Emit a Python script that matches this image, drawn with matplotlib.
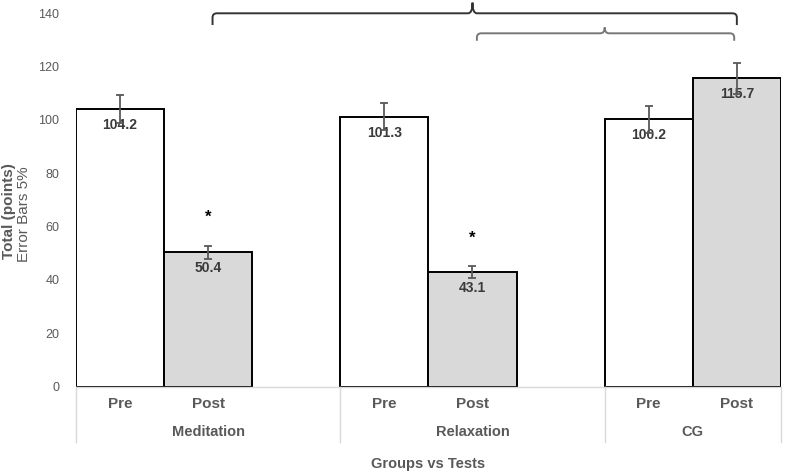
"""
Pre/post totals per group, bars with 5% error bars and significance brackets.
Output: out.png
"""

import matplotlib.pyplot as plt
from matplotlib.path import Path
from matplotlib.patches import PathPatch
from matplotlib.transforms import blended_transform_factory, offset_copy

plt.rcParams["font.family"] = ["Liberation Sans", "DejaVu Sans"]

GROUPS = ["Meditation", "Relaxation", "CG"]
TESTS = ["Pre", "Post"]
VALUES = [104.2, 50.4, 101.3, 43.1, 100.2, 115.7]
ERRORS = [5.2, 2.5, 5.1, 2.2, 5.0, 5.8]
SIGNIFICANT = [False, True, False, True, False, False]
Y_TICKS = [0, 20, 40, 60, 80, 100, 120, 140]

# slot index of each bar on the category axis (blank slot between groups)
SLOTS = [0, 1, 3, 4, 6, 7]
GROUP_SPANS = [(-0.5, 2.5), (2.5, 5.5), (5.5, 7.5)]

TEXT_GREY = "#595959"
LINE_GREY = "#d9d9d9"
POST_FILL = "#d9d9d9"


def rounded_bracket(ax, x0, x1, y, drop, xmid, rise, color, lw):
    rx, ry = 0.05, 1.6
    verts = [
        (x0, y - drop), (x0, y - ry), (x0, y), (x0 + rx, y),
        (xmid - rx, y), (xmid, y), (xmid, y + rise),
    ]
    codes = [Path.MOVETO, Path.LINETO, Path.CURVE3, Path.CURVE3,
             Path.LINETO, Path.CURVE3, Path.CURVE3]
    right = [
        (xmid, y + rise), (xmid, y), (xmid + rx, y),
        (x1 - rx, y), (x1, y), (x1, y - ry), (x1, y - drop),
    ]
    rcodes = [Path.MOVETO, Path.CURVE3, Path.CURVE3,
              Path.LINETO, Path.CURVE3, Path.CURVE3, Path.LINETO]
    path = Path(verts + right, codes + rcodes)
    ax.add_patch(PathPatch(path, facecolor="none", edgecolor=color,
                           lw=lw, clip_on=False))


fig = plt.figure(figsize=(7.88, 4.75), dpi=100)
ax = fig.add_axes([0.0964, 0.186, 0.8946, 0.786])

colors = ["white" if i % 2 == 0 else POST_FILL for i in range(len(VALUES))]
ax.bar(SLOTS, VALUES, width=1.0, color=colors, edgecolor="black",
       linewidth=1.4, zorder=2)
ax.errorbar(SLOTS, VALUES, yerr=ERRORS, fmt="none", ecolor="#595959",
            elinewidth=1.3, capsize=3, capthick=1.3, zorder=4)

for x, v, e, sig in zip(SLOTS, VALUES, ERRORS, SIGNIFICANT):
    ax.annotate(f"{v:.1f}", xy=(x, v), xytext=(0, -6.5),
                textcoords="offset points", ha="center", va="top",
                fontsize=10, fontweight="bold", color="#3a3a3a", zorder=3)
    if sig:
        ax.text(x, v + e + 10.5, "*", ha="center", va="center",
                fontsize=12, fontweight="bold", color="black")

ax.set_xlim(-0.5, 7.5)
ax.set_ylim(0, 140)
ax.set_yticks(Y_TICKS)
ax.set_yticklabels([str(t) for t in Y_TICKS], fontsize=9, color=TEXT_GREY)
ax.tick_params(axis="y", length=0, pad=12)
ax.set_xticks([])

for side in ["left", "right", "top"]:
    ax.spines[side].set_visible(False)
ax.spines["bottom"].set_color(LINE_GREY)
ax.spines["bottom"].set_linewidth(1.0)

# multi-level category labels
trans = blended_transform_factory(ax.transData, ax.transAxes)
pre_post_trans = offset_copy(trans, fig=fig, y=-17, units="dots")
group_trans = offset_copy(trans, fig=fig, y=-45, units="dots")
for k, x in enumerate(SLOTS):
    ax.text(x, 0, TESTS[k % 2], transform=pre_post_trans, ha="center",
            va="center", fontsize=11, fontweight="bold", color=TEXT_GREY)
for name, (a, b) in zip(GROUPS, GROUP_SPANS):
    ax.text((a + b) / 2, 0, name, transform=group_trans, ha="center",
            va="center", fontsize=10.5, fontweight="bold", color=TEXT_GREY)
sep_len = 55 / (0.786 * 475)
for x in [-0.5, 2.5, 5.5, 7.5]:
    ax.plot([x, x], [0, -sep_len], transform=trans, color=LINE_GREY,
            lw=1.0, clip_on=False)

fig.text(0.5435, 1 - 464 / 475, "Groups vs Tests", ha="center", va="center",
         fontsize=10.5, fontweight="bold", color=TEXT_GREY)
fig.text(9 / 788, 1 - 211 / 475, "Total (points)", rotation=90, ha="center",
         va="center", fontsize=11, fontweight="bold", color=TEXT_GREY)
fig.text(24 / 788, 1 - 214 / 475, "Error Bars 5%", rotation=90, ha="center",
         va="center", fontsize=11, color=TEXT_GREY)

rounded_bracket(ax, 1.05, 7.0, 140, 4.4, 4.0, 4.0, "#333333", 1.4)
rounded_bracket(ax, 4.05, 6.97, 132.5, 2.8, 5.5, 2.2, "#777777", 1.4)

fig.savefig("out.png", dpi=100)
